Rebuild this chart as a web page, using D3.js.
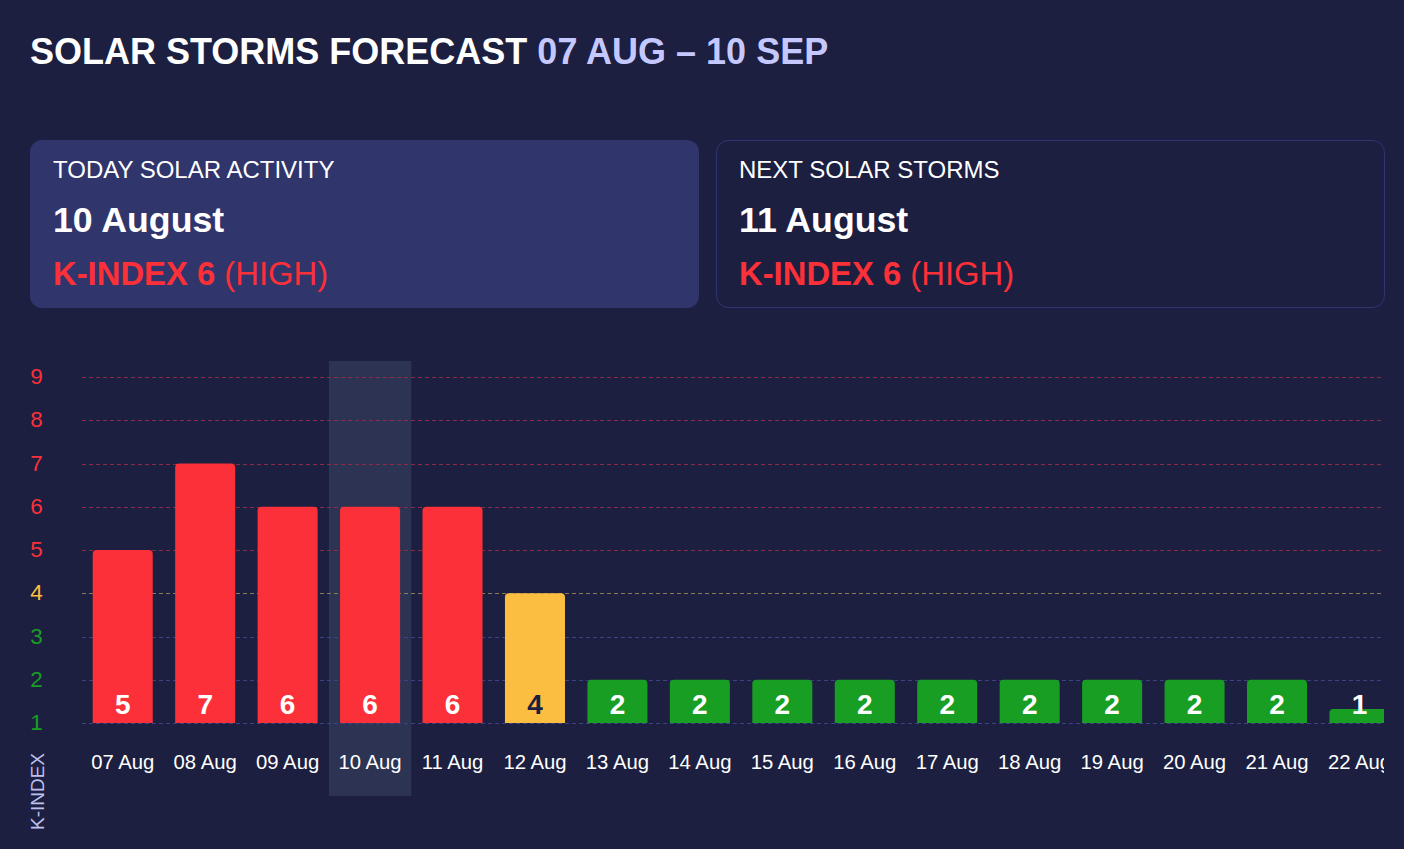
<!DOCTYPE html>
<html>
<head>
<meta charset="utf-8">
<script src="https://cdn.jsdelivr.net/npm/d3@7"></script>
<style>
  html, body { margin: 0; padding: 0; background: #1c1f3f; }
  svg { display: block; font-family: "Liberation Sans", Arial, Helvetica, sans-serif; }
</style>
</head>
<body>
<svg id="chart" width="1404" height="849"></svg>
<script>
// ---- data ----
const dates = ["07 Aug","08 Aug","09 Aug","10 Aug","11 Aug","12 Aug","13 Aug","14 Aug",
               "15 Aug","16 Aug","17 Aug","18 Aug","19 Aug","20 Aug","21 Aug","22 Aug"];
const kIndex = [5,7,6,6,6,4,2,2,2,2,2,2,2,2,2,1];
const yTicks = [1,2,3,4,5,6,7,8,9];
const todayLabel = "10 Aug";
const titleMain = "SOLAR STORMS FORECAST";
const titleRange = "07 AUG \u2013 10 SEP";
const cards = [
  {head: "TODAY SOLAR ACTIVITY", date: "10 August", k: 6, level: "(HIGH)"},
  {head: "NEXT SOLAR STORMS", date: "11 August", k: 6, level: "(HIGH)"}
];

// ---- styles ----
const RED = "#fb3038", YELLOW = "#fbbe40", GREEN = "#189e23";
const levelColor = v => v >= 5 ? RED : (v === 4 ? YELLOW : GREEN);
const gridColor = v => v >= 5 ? "#8c2b46" : (v === 4 ? "#8e7b55" : "#3b4383");

const svg = d3.select("#chart");

// background
svg.append("rect").attr("width", 1404).attr("height", 849).attr("fill", "#1c1f3f");

// title
const title = svg.append("text").attr("x", 30).attr("y", 64)
  .attr("font-size", 36).attr("font-weight", "bold");
title.append("tspan").attr("fill", "#ffffff").text(titleMain + " ");
title.append("tspan").attr("fill", "#c5c8ff").text(titleRange);

// cards
const cardX = [30, 716], cardW = 669, cardY = 140, cardH = 168;
cards.forEach((c, i) => {
  const g = svg.append("g").attr("transform", `translate(${cardX[i]},${cardY})`);
  g.append("rect").attr("x", i === 0 ? 0 : 0.5).attr("y", i === 0 ? 0 : 0.5)
    .attr("width", i === 0 ? cardW : cardW - 1).attr("height", i === 0 ? cardH : cardH - 1)
    .attr("rx", 12)
    .attr("fill", i === 0 ? "#30356c" : "#1c1f3f")
    .attr("stroke", i === 0 ? "none" : "#2e3571").attr("stroke-width", 1);
  g.append("text").attr("x", 23).attr("y", 38).attr("fill", "#ffffff")
    .attr("font-size", 24).text(c.head);
  g.append("text").attr("x", 23).attr("y", 92).attr("fill", "#ffffff")
    .attr("font-size", 35.7).attr("font-weight", "bold").text(c.date);
  const t = g.append("text").attr("x", 23).attr("y", 145).attr("fill", levelColor(c.k))
    .attr("font-size", 32.8);
  t.append("tspan").attr("font-weight", "bold").text("K-INDEX " + c.k);
  t.append("tspan").text(" " + c.level);
});

// ---- chart ----
const plotLeft = 82, plotRight = 1384;
const x = d3.scaleBand().domain(dates).range([81.5, 1400.7])
  .paddingInner(0.272).paddingOuter(0.136);
const y = d3.scaleLinear().domain([1, 9]).range([723, 377]);
const step = x.step(), bw = x.bandwidth();

const defs = svg.append("defs");
defs.append("clipPath").attr("id", "plotClip")
  .append("rect").attr("x", 0).attr("y", 340).attr("width", plotRight).attr("height", 500);

const chart = svg.append("g").attr("clip-path", "url(#plotClip)");

// highlight for today
chart.append("rect")
  .attr("x", x(todayLabel) - (step - bw) / 2).attr("y", 361)
  .attr("width", step).attr("height", 796 - 361)
  .attr("fill", "#2d3353");

// gridlines
chart.append("g").selectAll("line").data(yTicks).join("line")
  .attr("x1", plotLeft).attr("x2", plotRight)
  .attr("y1", d => Math.round(y(d)) + 0.5).attr("y2", d => Math.round(y(d)) + 0.5)
  .attr("stroke", d => gridColor(d)).attr("stroke-width", 1)
  .attr("stroke-dasharray", "4,3");

// y tick labels
svg.append("g").selectAll("text").data(yTicks).join("text")
  .attr("x", 36.5).attr("y", d => y(d) + 7)
  .attr("text-anchor", "middle").attr("font-size", 22.5)
  .attr("fill", d => levelColor(d)).text(d => d);

// bars
const minH = 14, r = 4;
function barPath(x0, top, w, bottom) {
  return `M${x0},${bottom}V${top + r}Q${x0},${top} ${x0 + r},${top}H${x0 + w - r}Q${x0 + w},${top} ${x0 + w},${top + r}V${bottom}Z`;
}
const base = y(1);
chart.append("g").selectAll("path").data(dates).join("path")
  .attr("d", (d, i) => {
    const top = Math.min(y(kIndex[i]), base - minH);
    return barPath(x(d), top, bw, base);
  })
  .attr("fill", (d, i) => levelColor(kIndex[i]));

// value labels
chart.append("g").selectAll("text").data(dates).join("text")
  .attr("x", d => x(d) + bw / 2).attr("y", 714)
  .attr("text-anchor", "middle").attr("font-size", 28).attr("font-weight", "bold")
  .attr("fill", (d, i) => kIndex[i] === 4 ? "#1c1f3f" : "#ffffff")
  .text((d, i) => kIndex[i]);

// x axis labels
chart.append("g").selectAll("text").data(dates).join("text")
  .attr("x", d => x(d) + bw / 2).attr("y", 769)
  .attr("text-anchor", "middle").attr("font-size", 20.3)
  .attr("fill", "#ffffff").text(d => d);

// y axis title
svg.append("text")
  .attr("transform", "translate(43.5,791.5) rotate(-90)")
  .attr("text-anchor", "middle").attr("font-size", 19)
  .attr("fill", "#bcc0ee").text("K-INDEX");
</script>
</body>
</html>
